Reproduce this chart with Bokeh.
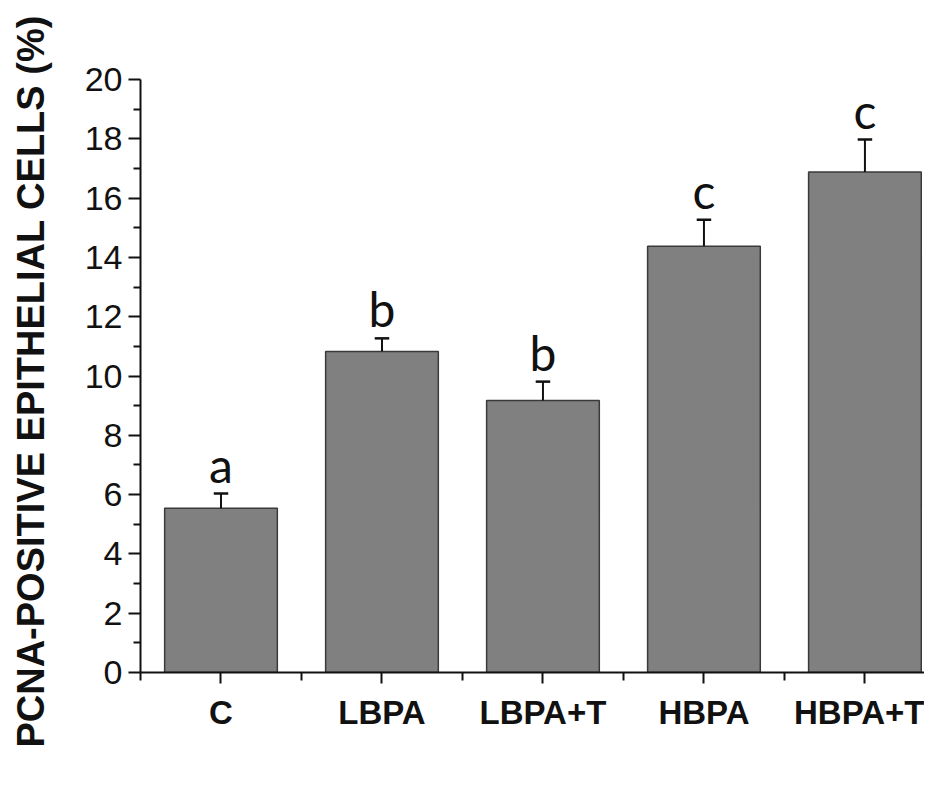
from bokeh.plotting import figure
from bokeh.models import FixedTicker, Range1d, ColumnDataSource
from bokeh.core.properties import value
from bokeh.embed import file_html
from bokeh.resources import INLINE

categories = ["C", "LBPA", "LBPA+T", "HBPA", "HBPA+T"]
means = [5.54, 10.83, 9.17, 14.38, 16.88]
errors = [0.50, 0.44, 0.64, 0.89, 1.10]
letters = ["a", "b", "b", "c", "c"]
y_ticks = [0, 2, 4, 6, 8, 10, 12, 14, 16, 18, 20]
y_minor = [1, 3, 5, 7, 9, 11, 13, 15, 17, 19]
y_title = "PCNA-POSITIVE EPITHELIAL CELLS (%)"

xs = list(range(len(categories)))
tops = [m + e for m, e in zip(means, errors)]
cap = 0.045

src = ColumnDataSource(dict(
    x=xs, m=means, t=tops,
    cl=[x - cap for x in xs], cr=[x + cap for x in xs],
    ly=[t + 0.03 for t in tops], lab=letters,
))

p = figure(width=924, height=784, output_backend="svg", toolbar_location=None,
           x_range=Range1d(-0.5, 4.37), y_range=Range1d(0, 20),
           min_border_left=140, min_border_top=79, min_border_bottom=112,
           min_border_right=0)
p.outline_line_color = None
p.grid.visible = False
p.background_fill_color = "white"

p.vbar(x="x", top="m", bottom=0, width=0.70, source=src,
       fill_color="#808080", line_color="#3a3a3a", line_width=1.5)
p.segment(x0="x", y0="m", x1="x", y1="t", source=src, line_color="#111111", line_width=2)
p.segment(x0="cl", y0="t", x1="cr", y1="t", source=src, line_color="#111111", line_width=2.5)
p.text(x="x", y="ly", text="lab", source=src, text_align="center",
       text_baseline="bottom", text_font=value("Lato"),
       text_font_size="48px", text_color="#111111")

# y axis
ya = p.yaxis[0]
ya.ticker = FixedTicker(ticks=y_ticks, minor_ticks=y_minor)
ya.axis_line_width = 2
ya.axis_line_color = "#111111"
ya.major_tick_line_width = 2
ya.minor_tick_line_width = 2
ya.major_tick_line_color = "#111111"
ya.minor_tick_line_color = "#111111"
ya.major_tick_out = 12
ya.major_tick_in = 0
ya.minor_tick_out = 7
ya.minor_tick_in = 0
ya.major_label_text_font = "Liberation Sans"
ya.major_label_text_font_size = "34px"
ya.major_label_text_color = "#111111"
ya.major_label_standoff = 6
ya.axis_label = y_title + "\u00a0"
ya.axis_label_text_font = "Liberation Sans"
ya.axis_label_text_font_size = "38px"
ya.axis_label_text_font_style = "bold"
ya.axis_label_text_color = "#111111"
ya.axis_label_standoff = 30

# x axis
xa = p.xaxis[0]
xa.ticker = FixedTicker(ticks=xs, minor_ticks=[x - 0.5 for x in xs] + [len(xs) - 0.5])
xa.major_label_overrides = {i: c for i, c in enumerate(categories)}
xa.axis_line_width = 2
xa.axis_line_color = "#111111"
xa.major_tick_line_width = 2
xa.minor_tick_line_width = 2
xa.major_tick_line_color = "#111111"
xa.minor_tick_line_color = "#111111"
xa.major_tick_out = 11
xa.major_tick_in = 0
xa.minor_tick_out = 8
xa.minor_tick_in = 0
xa.major_label_text_font = "Liberation Sans"
xa.major_label_text_font_size = "33px"
xa.major_label_text_font_style = "bold"
xa.major_label_text_color = "#111111"
xa.major_label_standoff = 10

open("out.html", "w").write(file_html(p, INLINE))
